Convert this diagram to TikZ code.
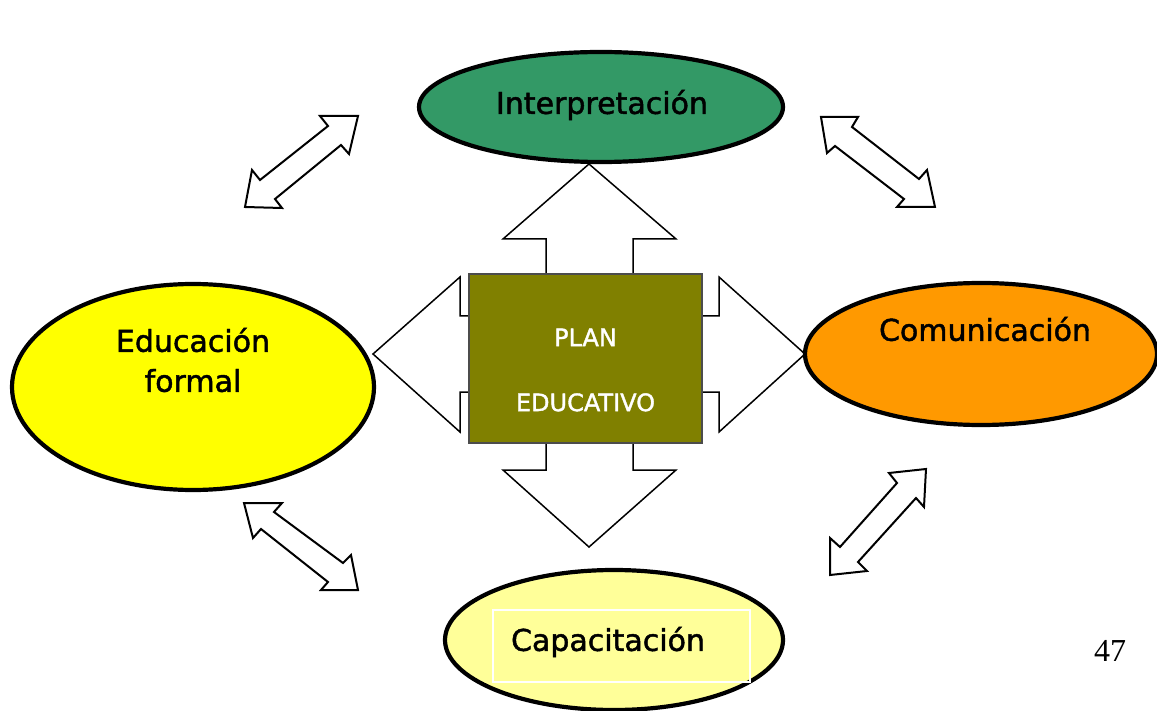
\documentclass[tikz,border=0pt]{standalone}
\usepackage{fontspec}
\setmainfont[FakeBold=1.5]{DejaVu Sans}
\newfontfamily\pagenumfont{Liberation Serif}
\usepackage{xcolor}
\usepackage{tikz}
\usetikzlibrary{shapes.geometric}

\definecolor{interpgreen}{HTML}{339966}
\definecolor{eduyellow}{HTML}{FFFF00}
\definecolor{comorange}{HTML}{FF9900}
\definecolor{capyellow}{HTML}{FFFF99}
\definecolor{planolive}{HTML}{808000}

\begin{document}
\begin{tikzpicture}[x=1pt,y=-1pt,
    oval/.style={draw=black, line width=4.2pt, ellipse, inner sep=0pt},
    ovaltext/.style={font=\fontsize{30}{40}\selectfont, align=center, inner sep=0pt},
    blockarrow/.style={draw=black, fill=white, line width=1.5pt, line join=miter},
    dblarrow/.style={draw=black, fill=white, line width=2pt, line join=miter}]
    \useasboundingbox (0,0) rectangle (1157,711);

    % block arrows round the plan
    \draw[blockarrow] (546,276) -- (546,239) -- (503,239) -- (589,164) -- (676,239) -- (633,239) -- (633,276) -- cycle;
    \draw[blockarrow] (546,441) -- (546,470) -- (503,470) -- (589,547) -- (676,470) -- (633,470) -- (633,441) -- cycle;
    \draw[blockarrow] (471,316) -- (460,316) -- (460,277) -- (373,354) -- (460,432) -- (460,392) -- (471,392) -- cycle;
    \draw[blockarrow] (700,316) -- (719,316) -- (719,277) -- (805,354) -- (719,432) -- (719,392) -- (700,392) -- cycle;

    % plan
    \node[draw=black!70, line width=1.5pt, fill=planolive, minimum width=233pt, minimum height=169pt] (plan) at (585.5,358.5) {};
    \node[text=white, font=\fontsize{24}{65}\selectfont, align=center, inner sep=0pt] (plantext) at (585.5,370) {PLAN\\EDUCATIVO};

    % ovals
    \node[oval, fill=interpgreen, minimum width=364pt, minimum height=110pt] (interp) at (601,107) {};
    \node[ovaltext] (interptext) at (602,105) {Interpretación};

    \node[oval, fill=eduyellow, minimum width=362pt, minimum height=206pt] (educ) at (193,387) {};
    \node[ovaltext] (eductext) at (193,360) {Educación\\formal};

    \node[oval, fill=comorange, minimum width=352pt, minimum height=142pt] (comun) at (981,354) {};
    \node[ovaltext] (comuntext) at (985,329) {Comunicación};

    \node[oval, fill=capyellow, minimum width=338pt, minimum height=140pt] (capac) at (614,640) {};
    \node[draw=white, line width=1.5pt, minimum width=257pt, minimum height=72pt] (capacbox) at (621.5,646) {};
    \node[ovaltext] (capactext) at (608,642) {Capacitación};

    % double arrows
    \draw[dblarrow] (358,116) -- (349,154) -- (341,145) -- (275,199) -- (282,208) -- (245,207)
        -- (252,170) -- (260,180) -- (328,126) -- (320,116) -- cycle;
    \draw[dblarrow] (821,117) -- (858,117) -- (852,127) -- (919,179) -- (927,170) -- (935,207)
        -- (897,207) -- (904,199) -- (835,146) -- (827,153) -- cycle;
    \draw[dblarrow] (244,503) -- (282,503) -- (274,512) -- (343,563) -- (351,555) -- (358,590)
        -- (321,590) -- (328,582) -- (261,529) -- (253,538) -- cycle;
    \draw[dblarrow] (926,469) -- (924,507) -- (916,498) -- (858,562) -- (867,571) -- (830,575)
        -- (830,538) -- (840,547) -- (897,483) -- (889,473) -- cycle;

    % page number
    \node[font=\pagenumfont\fontsize{32}{36}\selectfont] (pagenum) at (1110,651) {47};
\end{tikzpicture}
\end{document}
